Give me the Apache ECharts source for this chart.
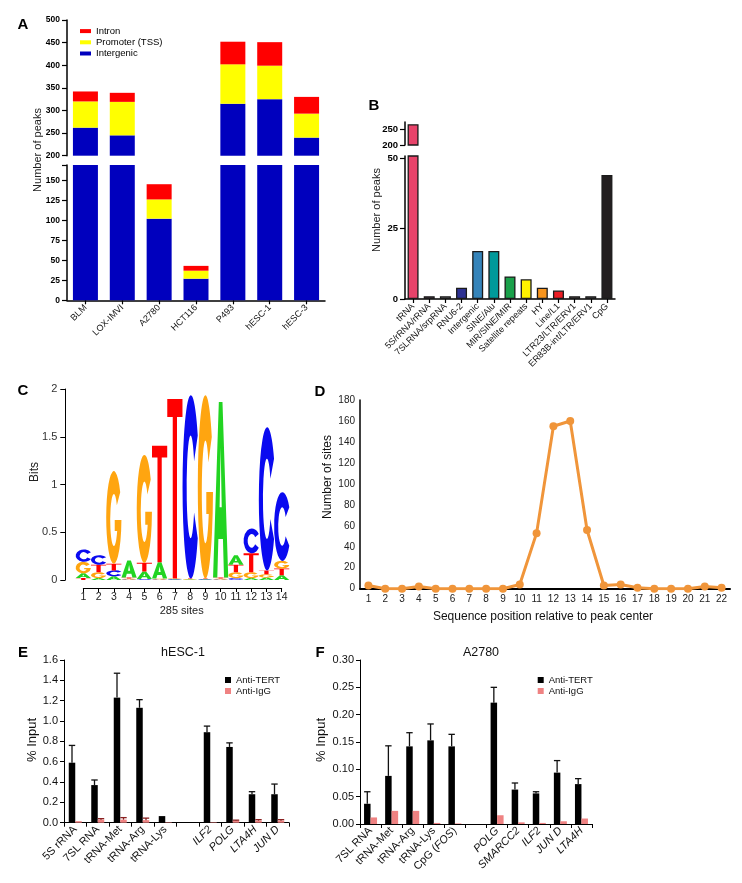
<!DOCTYPE html>
<html><head><meta charset="utf-8">
<script src="https://cdn.jsdelivr.net/npm/echarts@6/dist/echarts.min.js"></script>
<style>html,body{margin:0;padding:0;background:#fff}#c{width:742px;height:883px}</style>
</head><body><div id="c"></div>
<script>
// ---------- Panel A data ----------
const aCats = ['BLM','LOX-IMVI','A2780','HCT116','P493','hESC-1','hESC-3'];
const aIntergenic = [262,245,102,27,315,325,240];
const aPromoter = [58,74,24,10,87,74,53];
const aIntron = [22,20,19,6,50,52,37];
const aLowerTicks = [0,25,50,75,100,125,150];
// ---------- Panel B data ----------
const bCats = ['tRNA','5S/rRNA/rRNA','7SLRNA/srpRNA','RNU6-2','Intergenic','SINE/Alu','MIR/SINE/MIR','Satellite repeats','HY','Line/L1','LTR23/LTR/ERV1','ER83B-int/LTR/ERV1','CpG'];
const bValues = [266,1,1,4,17,17,8,7,4,3,1,1,44];
const bUpperTicks = [200,250];
const bLowerTicks = [0,25,50];
// ---------- Panel C data (bits per letter) ----------
const cPositions = [1,2,3,4,5,6,7,8,9,10,11,12,13,14];
const logoA = [0.05,0.02,0.04,0.18,0.08,0.17,0.005,0.005,0.005,1.84,0.10,0.02,0.025,0.05];
const logoC = [0.13,0.10,0.06,0.005,0.01,0.005,0.005,1.92,0.005,0.005,0.02,0.26,1.50,0.72];
const logoG = [0.12,0.06,0.97,0.01,1.13,0.01,0.005,0.005,1.92,0.01,0.06,0.06,0.035,0.08];
const logoT = [0.02,0.08,0.07,0.01,0.09,1.22,1.88,0.005,0.005,0.01,0.08,0.20,0.04,0.07];
// ---------- Panel D data ----------
const dPositions = ['1','2','3','4','5','6','7','8','9','10','11','12','13','14','15','16','17','18','19','20','21','22'];
const dSites = [3,0,0,2,0,0,0,0,0,4,53,155,160,56,3,4,1,0,0,0,2,1];
// ---------- Panel E data ----------
const eCats = ['5S rRNA','7SL RNA','tRNA-Met','tRNA-Arg','tRNA-Lys','','ILF2','POLG','LTA4H','JUN D'];
const eTert = [0.59,0.37,1.23,1.13,0.065,null,0.89,0.745,0.28,0.28];
const eTertErr = [0.17,0.05,0.24,0.08,0,null,0.06,0.04,0.025,0.10];
const eIgg = [0.015,0.03,0.03,0.025,0.005,null,0.005,0.02,0.02,0.02];
const eIggErr = [0,0.01,0.02,0.02,0,null,0,0.005,0.01,0.01];
// ---------- Panel F data ----------
const fCats = ['7SL RNA','tRNA-Met','tRNA-Arg','tRNA-Lys','CpG (FOS)','','POLG','SMARCC2','ILF2','JUN D','LTA4H'];
const fTert = [0.037,0.088,0.142,0.153,0.142,null,0.222,0.063,0.056,0.094,0.073];
const fTertErr = [0.022,0.055,0.025,0.030,0.022,null,0.028,0.012,0.003,0.022,0.010];
const fIgg = [0.012,0.024,0.024,0.002,0.001,null,0.016,0.003,0.002,0.005,0.010];
const fIggErr = [0,0,0,0,0,null,0,0,0,0,0];

// ---------- styles ----------
const FONT = 'Liberation Sans, Arial, sans-serif';
const bColors = ['#E8436A','#6E4A60','#9A97A0','#2D3192','#3584BA','#00999A','#1AA04A','#FFF200','#F7941D','#ED1C24','#7D6E68','#6D6E71','#231F20'];
const letterPaths = [
  'M0 100 L38 0 L62 0 L100 100 L72 100 L65 78 L35 78 L28 100 Z M43 60 L57 60 L50 26 Z',
  'M92 22 A50 50 0 1 0 92 78 L70 64 A24 28 0 1 1 70 36 Z',
  'M92 22 A50 50 0 1 0 100 52 L56 52 L56 64 L72 64 A24 28 0 1 1 70 36 Z',
  'M0 0 L100 0 L100 10 L64 10 L64 100 L36 100 L36 10 L0 10 Z'
];
const letterColors = ['#22D422','#0A0AF0','#FFA510','#FF0000'];
const italicNames = new Set(['ILF2','POLG','LTA4H','JUN D','SMARCC2']);

const logoData = [];
for (let i = 0; i < cPositions.length; i++) {
  const items = [[logoA[i],0],[logoC[i],1],[logoG[i],2],[logoT[i],3]].sort((a,b)=>a[0]-b[0]);
  let base = 0;
  for (const it of items) {
    if (it[0] > 0) { logoData.push([cPositions[i], it[1], base, base + it[0]]); base += it[0]; }
  }
}

function errData(vals, errs) {
  const out = [];
  vals.forEach((v,i)=>{ if (v != null && errs[i] > 0) out.push([i, v, v + errs[i]]); });
  return out;
}
function errSeries(name, ax, vals, errs, offset, color) {
  return {
    type:'custom', name:name, xAxisIndex:ax, yAxisIndex:ax, clip:false, z:5,
    data: errData(vals, errs),
    renderItem: function(params, api){
      const i = api.value(0), v = api.value(1), t = api.value(2);
      const p0 = api.coord([i, v]), p1 = api.coord([i, t]);
      const x = p0[0] + offset;
      return {type:'group', children:[
        {type:'line', shape:{x1:x,y1:p0[1],x2:x,y2:p1[1]}, style:{stroke:color,lineWidth:1.3}},
        {type:'line', shape:{x1:x-3.2,y1:p1[1],x2:x+3.2,y2:p1[1]}, style:{stroke:color,lineWidth:1.3}}
      ]};
    }
  };
}
function labelFmt(v) {
  if (italicNames.has(v)) return '{i|' + v + '}';
  if (v === 'CpG (FOS)') return 'CpG ({i|FOS})';
  return v;
}
const axLine = (w)=>({show:true, onZero:false, lineStyle:{color:'#000', width:w}});
const noSplit = {show:false};

const chart = echarts.init(document.getElementById('c'));
const option = {
  animation:false,
  textStyle:{fontFamily:FONT},
  grid:[
    {left:67, top:20, width:258, height:135.7, outerBoundsMode:'none'},
    {left:67, top:165, width:258, height:135.3, outerBoundsMode:'none'},
    {left:405, top:122, width:210, height:23, outerBoundsMode:'none'},
    {left:405, top:156, width:210, height:143, outerBoundsMode:'none'},
    {left:83.3, top:389, width:198.4, height:191, outerBoundsMode:'none'},
    {left:360, top:400, width:370, height:188.7, outerBoundsMode:'none'},
    {left:64, top:660, width:225, height:162.7, outerBoundsMode:'none'},
    {left:360, top:660, width:232, height:164, outerBoundsMode:'none'}
  ],
  xAxis:[
    {gridIndex:0, type:'category', data:aCats, show:false},
    {gridIndex:1, type:'category', data:aCats, axisLine:axLine(1.5),
      axisTick:{show:true, alignWithLabel:true, length:4, lineStyle:{color:'#000', width:1.2}},
      axisLabel:{rotate:45, interval:0, fontSize:9, color:'#111', margin:6}},
    {gridIndex:2, type:'category', data:bCats, show:false},
    {gridIndex:3, type:'category', data:bCats, axisLine:axLine(1.5),
      axisTick:{show:true, alignWithLabel:true, length:4, lineStyle:{color:'#000', width:1.2}},
      axisLabel:{rotate:45, interval:0, fontSize:9, color:'#111', margin:6}},
    {gridIndex:4, type:'value', min:1, max:14, interval:1, offset:8, axisLine:axLine(1),
      axisTick:{show:true, length:4, lineStyle:{color:'#000'}},
      axisLabel:{fontSize:10.5, color:'#222', margin:4}, splitLine:noSplit},
    {gridIndex:5, type:'category', data:dPositions, boundaryGap:true, axisLine:axLine(2),
      axisTick:{show:false}, axisLabel:{fontSize:10, color:'#222', margin:6, interval:0}},
    {gridIndex:6, type:'category', data:eCats, axisLine:axLine(1),
      axisTick:{show:true, length:4, lineStyle:{color:'#000'}},
      axisLabel:{rotate:45, interval:0, fontSize:11, color:'#111', margin:5, formatter:labelFmt,
        rich:{i:{fontStyle:'italic', fontSize:11, color:'#111'}}}},
    {gridIndex:7, type:'category', data:fCats, axisLine:axLine(1),
      axisTick:{show:true, length:4, lineStyle:{color:'#000'}},
      axisLabel:{rotate:45, interval:0, fontSize:11, color:'#111', margin:5, formatter:labelFmt,
        rich:{i:{fontStyle:'italic', fontSize:11, color:'#111'}}}}
  ],
  yAxis:[
    {gridIndex:0, type:'value', min:200, max:500, interval:50, axisLine:axLine(1.5),
      axisTick:{show:true, length:5, lineStyle:{color:'#000', width:1.2}},
      axisLabel:{fontSize:8.5, fontWeight:'bold', color:'#000', margin:7}, splitLine:noSplit},
    {gridIndex:1, type:'value', min:0, max:169, axisLine:axLine(1.5),
      axisTick:{show:true, length:5, lineStyle:{color:'#000', width:1.2}, customValues:aLowerTicks.concat([169])},
      axisLabel:{fontSize:8.5, fontWeight:'bold', color:'#000', margin:7, customValues:aLowerTicks}, splitLine:noSplit},
    {gridIndex:2, type:'value', min:200, max:273, axisLine:axLine(1.5),
      axisTick:{show:true, length:5, lineStyle:{color:'#000', width:1.2}, customValues:bUpperTicks},
      axisLabel:{fontSize:9.5, fontWeight:'bold', color:'#000', margin:7, customValues:bUpperTicks}, splitLine:noSplit},
    {gridIndex:3, type:'value', min:0, max:50.7, axisLine:axLine(1.5),
      axisTick:{show:true, length:5, lineStyle:{color:'#000', width:1.2}, customValues:bLowerTicks},
      axisLabel:{fontSize:9.5, fontWeight:'bold', color:'#000', margin:7, customValues:bLowerTicks}, splitLine:noSplit},
    {gridIndex:4, type:'value', min:0, max:2, interval:0.5, offset:18, axisLine:axLine(1),
      axisTick:{show:true, length:5, lineStyle:{color:'#000'}},
      axisLabel:{fontSize:11, color:'#333', margin:8}, splitLine:noSplit},
    {gridIndex:5, type:'value', min:0, max:180, interval:20, axisLine:axLine(1.5),
      axisTick:{show:false}, axisLabel:{fontSize:10, color:'#222', margin:5}, splitLine:noSplit},
    {gridIndex:6, type:'value', min:0, max:1.6, interval:0.2, axisLine:axLine(1),
      axisTick:{show:true, length:4, lineStyle:{color:'#000'}},
      axisLabel:{fontSize:11, color:'#111', margin:6, formatter:(v)=>v.toFixed(1)}, splitLine:noSplit},
    {gridIndex:7, type:'value', min:0, max:0.3, interval:0.05, axisLine:axLine(1),
      axisTick:{show:true, length:4, lineStyle:{color:'#000'}},
      axisLabel:{fontSize:11, color:'#111', margin:6, formatter:(v)=>v.toFixed(2)}, splitLine:noSplit}
  ],
  legend:[
    {data:['Intron','Promoter (TSS)','Intergenic'], orient:'vertical', left:75, top:20.5,
      icon:'rect', itemWidth:11, itemHeight:4, itemGap:0,
      textStyle:{fontSize:9.5, color:'#000', lineHeight:11.2}, selectedMode:false},
    {data:['Anti-TERT','Anti-IgG'], orient:'vertical', left:220, top:669.5,
      icon:'rect', itemWidth:6, itemHeight:6, itemGap:0,
      textStyle:{fontSize:9.5, color:'#111', lineHeight:11}, selectedMode:false},
    {data:['Anti-TERT','Anti-IgG'], orient:'vertical', left:532.7, top:669.5,
      icon:'rect', itemWidth:6, itemHeight:6, itemGap:0,
      textStyle:{fontSize:9.5, color:'#111', lineHeight:11}, selectedMode:false}
  ],
  series:[
    // Panel A upper
    {type:'bar', name:'Intergenic', xAxisIndex:0, yAxisIndex:0, stack:'au', data:aIntergenic, barWidth:25, itemStyle:{color:'#0000BE'}},
    {type:'bar', name:'Promoter (TSS)', xAxisIndex:0, yAxisIndex:0, stack:'au', data:aPromoter, barWidth:25, itemStyle:{color:'#FFFF00'}},
    {type:'bar', name:'Intron', xAxisIndex:0, yAxisIndex:0, stack:'au', data:aIntron, barWidth:25, itemStyle:{color:'#FF0000'}},
    // Panel A lower
    {type:'bar', name:'Intergenic', xAxisIndex:1, yAxisIndex:1, stack:'al', data:aIntergenic, barWidth:25, itemStyle:{color:'#0000BE'}},
    {type:'bar', name:'Promoter (TSS)', xAxisIndex:1, yAxisIndex:1, stack:'al', data:aPromoter, barWidth:25, itemStyle:{color:'#FFFF00'}},
    {type:'bar', name:'Intron', xAxisIndex:1, yAxisIndex:1, stack:'al', data:aIntron, barWidth:25, itemStyle:{color:'#FF0000'}},
    // Panel B
    {type:'bar', name:'bu', xAxisIndex:2, yAxisIndex:2, barWidth:11,
      data:bValues.map((v,i)=>({value:v, itemStyle:{color:bColors[i]}})),
      itemStyle:{borderColor:'#1a1a1a', borderWidth:1.3}},
    {type:'bar', name:'bl', xAxisIndex:3, yAxisIndex:3, barWidth:11,
      data:bValues.map((v,i)=>({value:v, itemStyle:{color:bColors[i]}})),
      itemStyle:{borderColor:'#1a1a1a', borderWidth:1.3}},
    // Panel C logo
    {type:'custom', name:'logo', xAxisIndex:4, yAxisIndex:4, clip:false, data:logoData,
      encode:{x:0, y:3},
      renderItem:function(params, api){
        const pos = api.value(0), li = api.value(1), y0 = api.value(2), y1 = api.value(3);
        const p0 = api.coord([pos, y0]), p1 = api.coord([pos, y1]);
        const w = 15.2;
        return {type:'path', shape:{pathData:letterPaths[li], x:p0[0]-w/2, y:p1[1], width:w, height:Math.max(p0[1]-p1[1],0.3), layout:'cover'},
          style:{fill:letterColors[li]}};
      }},
    // Panel D
    {type:'line', name:'sites', xAxisIndex:5, yAxisIndex:5, data:dSites, symbol:'circle', symbolSize:8,
      itemStyle:{color:'#F0953A'}, lineStyle:{color:'#F0953A', width:3}},
    // Panel E
    {type:'bar', name:'Anti-TERT', xAxisIndex:6, yAxisIndex:6, data:eTert, barWidth:6.5, barGap:'0%', itemStyle:{color:'#000'}},
    {type:'bar', name:'Anti-IgG', xAxisIndex:6, yAxisIndex:6, data:eIgg, barWidth:6.5, barGap:'0%', itemStyle:{color:'#EF8282'}},
    errSeries('errE1', 6, eTert, eTertErr, -3.25, '#111'),
    errSeries('errE2', 6, eIgg, eIggErr, 3.25, '#8a2020'),
    // Panel F
    {type:'bar', name:'Anti-TERT', xAxisIndex:7, yAxisIndex:7, data:fTert, barWidth:6.5, barGap:'0%', itemStyle:{color:'#000'}},
    {type:'bar', name:'Anti-IgG', xAxisIndex:7, yAxisIndex:7, data:fIgg, barWidth:6.5, barGap:'0%', itemStyle:{color:'#EF8282'}},
    errSeries('errF1', 7, fTert, fTertErr, -3.25, '#111'),
    errSeries('errF2', 7, fIgg, fIggErr, 3.25, '#8a2020')
  ],
  graphic:[
    {type:'text', x:23, y:25, style:{text:'A', font:'900 15px '+FONT, fill:'#000', textAlign:'center', textVerticalAlign:'middle'}},
    {type:'text', x:374, y:106, style:{text:'B', font:'900 15px '+FONT, fill:'#000', textAlign:'center', textVerticalAlign:'middle'}},
    {type:'text', x:23, y:391, style:{text:'C', font:'900 15px '+FONT, fill:'#000', textAlign:'center', textVerticalAlign:'middle'}},
    {type:'text', x:320, y:392, style:{text:'D', font:'900 15px '+FONT, fill:'#000', textAlign:'center', textVerticalAlign:'middle'}},
    {type:'text', x:23, y:653, style:{text:'E', font:'900 15px '+FONT, fill:'#000', textAlign:'center', textVerticalAlign:'middle'}},
    {type:'text', x:320, y:653, style:{text:'F', font:'900 15px '+FONT, fill:'#000', textAlign:'center', textVerticalAlign:'middle'}},
    {type:'text', x:37.5, y:150, rotation:Math.PI/2, style:{text:'Number of peaks', font:'11px '+FONT, fill:'#222', textAlign:'center', textVerticalAlign:'middle'}},
    {type:'text', x:377, y:210, rotation:Math.PI/2, style:{text:'Number of peaks', font:'11px '+FONT, fill:'#222', textAlign:'center', textVerticalAlign:'middle'}},
    {type:'text', x:35, y:472, rotation:Math.PI/2, style:{text:'Bits', font:'12px '+FONT, fill:'#222', textAlign:'center', textVerticalAlign:'middle'}},
    {type:'text', x:181.7, y:611, style:{text:'285 sites', font:'11px '+FONT, fill:'#222', textAlign:'center', textVerticalAlign:'middle'}},
    {type:'text', x:328, y:477, rotation:Math.PI/2, style:{text:'Number of sites', font:'12px '+FONT, fill:'#111', textAlign:'center', textVerticalAlign:'middle'}},
    {type:'text', x:543, y:617, style:{text:'Sequence position relative to peak center', font:'12px '+FONT, fill:'#111', textAlign:'center', textVerticalAlign:'middle'}},
    {type:'text', x:183, y:653, style:{text:'hESC-1', font:'12.5px '+FONT, fill:'#111', textAlign:'center', textVerticalAlign:'middle'}},
    {type:'text', x:481, y:653, style:{text:'A2780', font:'12.5px '+FONT, fill:'#111', textAlign:'center', textVerticalAlign:'middle'}},
    {type:'text', x:32, y:740, rotation:Math.PI/2, style:{text:'% Input', font:'13px '+FONT, fill:'#111', textAlign:'center', textVerticalAlign:'middle'}},
    {type:'text', x:321, y:740, rotation:Math.PI/2, style:{text:'% Input', font:'13px '+FONT, fill:'#111', textAlign:'center', textVerticalAlign:'middle'}}
  ]
};
chart.setOption(option);
</script>
</body></html>
